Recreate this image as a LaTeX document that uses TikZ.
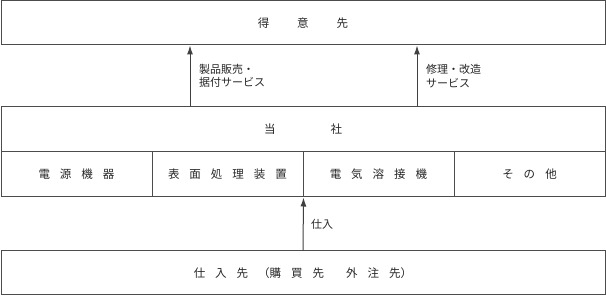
\documentclass[tikz,border=0pt]{standalone}
\usepackage{fontspec}
\newfontfamily\cjk{Noto Sans CJK JP}
\usetikzlibrary{arrows.meta}
\newcommand{\jg}{\hspace{10pt}}
\begin{document}
\begin{tikzpicture}[x=1pt,y=-1pt,font=\cjk\fontsize{11.5}{13}\selectfont,text=black!85,
  box/.style={draw=black!70,line width=1pt,minimum width=#1,minimum height=45pt,inner sep=0pt},
  arr/.style={draw=black!75,line width=1pt,-{Latex[length=9pt,width=6pt]}},
  lbl/.style={anchor=west,align=left,inner sep=0pt,font=\cjk\fontsize{11}{13.5}\selectfont}]
\useasboundingbox (0,0) rectangle (606,296);
\node[box=604,minimum height=44pt] (tokui) at (303,23) {得\hspace{28pt}意\hspace{28pt}先};
\node[box=604] (tousha) at (303,129.5) {当\hspace{55pt}社};
\foreach \i/\t in {1/{電\jg 源\jg 機\jg 器},2/{表\jg 面\jg 処\jg 理\jg 装\jg 置},3/{電\jg 気\jg 溶\jg 接\jg 機},4/{そ\jg の\jg 他}}
  {\node[box=151] (c\i) at ({-74.5+151*\i},174.5) {\t};}
\node[box=604,minimum height=44pt] (shiire) at (303,273) {仕\jg 入\jg 先\jg （購\jg 買\jg 先\hspace{22pt}外\jg 注\jg 先）};
% arrows
\coordinate (a1) at (190,0); \coordinate (a2) at (417,0);
\draw[arr] (tousha.north -| a1) -- (tokui.south -| a1);
\draw[arr] (tousha.north -| a2) -- (tokui.south -| a2);
\draw[arr] (shiire.north) -- (c2.south east);
\node[lbl] (l1) at (199,76) {製品販売・\\据付サービス};
\node[lbl] (l2) at (426,76) {修理・改造\\サービス};
\node[lbl] (l3) at (311,224) {仕入};
\end{tikzpicture}
\end{document}
